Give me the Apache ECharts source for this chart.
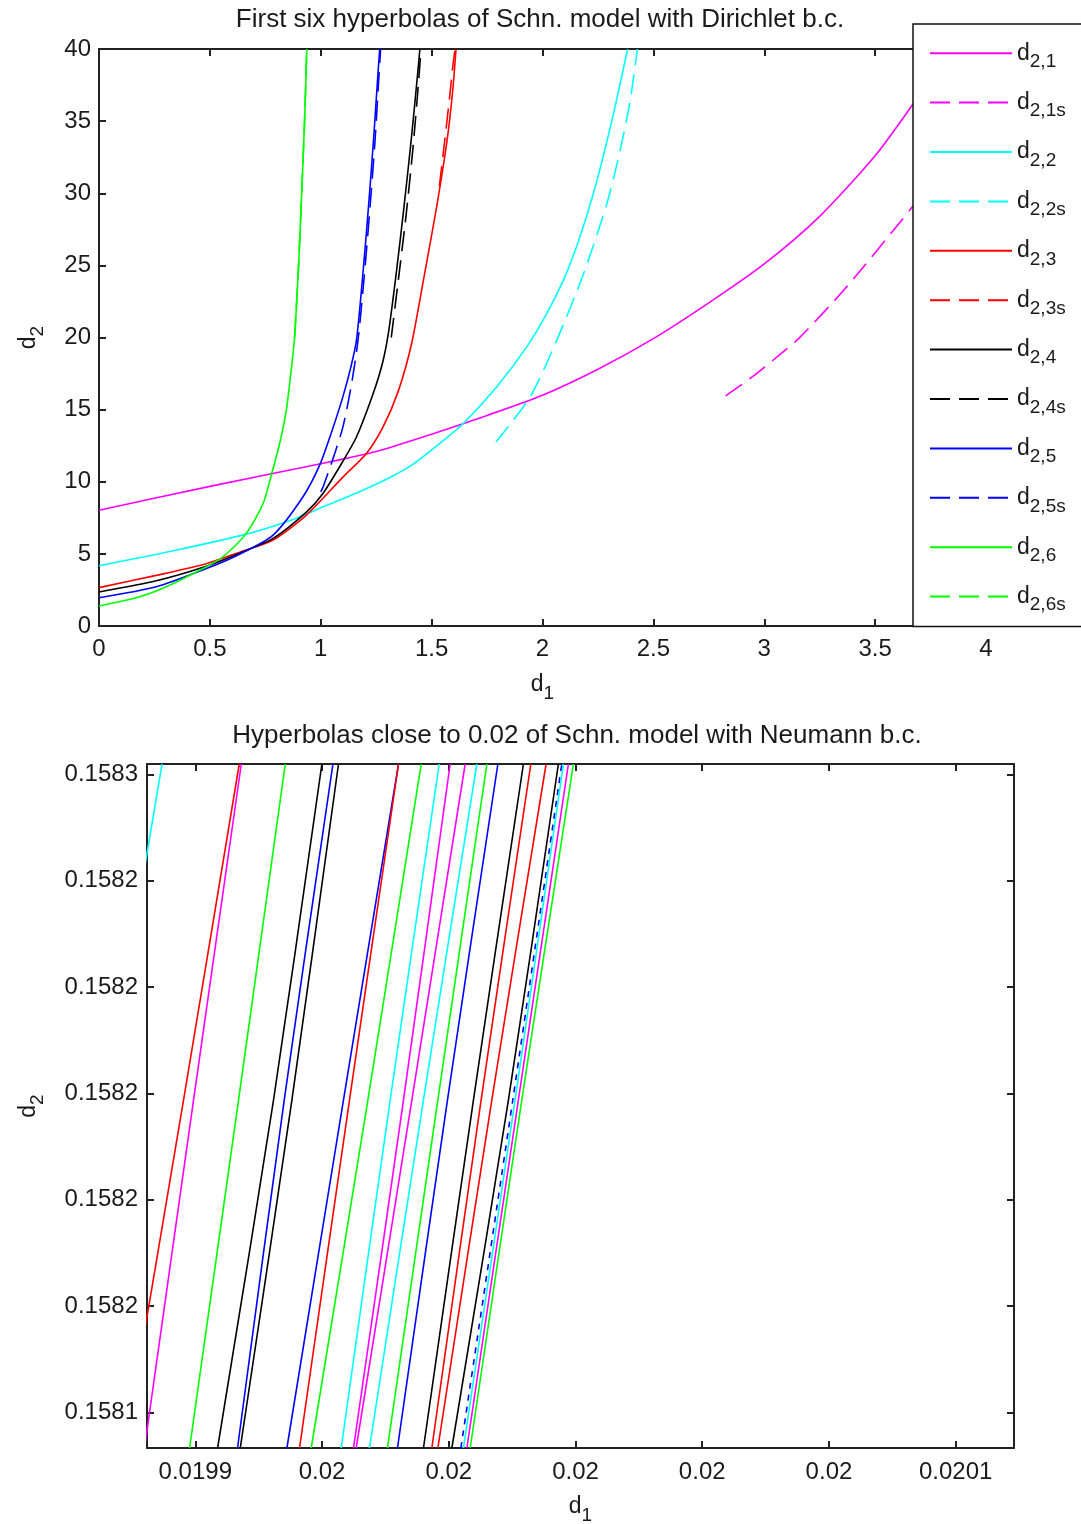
<!DOCTYPE html>
<html><head><meta charset="utf-8">
<script src="https://cdn.jsdelivr.net/npm/echarts/dist/echarts.min.js"></script>
<style>html,body{margin:0;padding:0;background:#fff}#c{width:1081px;height:1524px}</style>
</head><body><div id="c"></div>
<script>
// ---------------- Top chart (Dirichlet) : d1 / d2 pairs ----------------
const d21_d1 = [0, 0.5, 1.0, 1.25, 1.5, 1.75, 2.0, 2.25, 2.5, 2.75, 3.0, 3.25, 3.5, 3.667, 3.75];
const d21_d2 = [8.03, 9.68, 11.25, 12.1, 13.3, 14.6, 16.0, 17.8, 19.92, 22.4, 25.1, 28.4, 32.6, 36.1, 38.0];
const d21s_d1 = [2.826, 2.955, 3.077, 3.156, 3.358, 3.667, 3.75];
const d21s_d2 = [15.95, 17.38, 18.9, 19.94, 23.27, 29.04, 30.8];
const d22_d1 = [0, 0.33, 0.664, 0.875, 1.011, 1.161, 1.312, 1.417, 1.552, 1.643, 1.793, 1.929, 2.019, 2.094, 2.142, 2.178, 2.224, 2.258, 2.32, 2.384];
const d22_d2 = [4.18, 5.2, 6.37, 7.39, 8.26, 9.22, 10.30, 11.22, 12.85, 14.04, 16.57, 19.35, 21.65, 23.96, 25.8, 27.4, 29.7, 31.6, 35.5, 40];
const d22s_d1 = [1.790, 1.944, 2.064, 2.185, 2.29, 2.35, 2.395, 2.428];
const d22s_d2 = [12.75, 15.88, 19.8, 24.42, 29.27, 32.96, 36.4, 40];
const d23_d1 = [0, 0.258, 0.484, 0.634, 0.785, 0.935, 1.101, 1.206, 1.281, 1.35, 1.41, 1.468, 1.522, 1.57, 1.595, 1.61];
const d23_d2 = [2.66, 3.51, 4.32, 5.12, 5.96, 7.69, 10.34, 11.96, 13.8, 16.3, 19.6, 24.4, 29.0, 33.7, 37.1, 40];
const d23s_d1 = [1.535, 1.558, 1.58, 1.597, 1.606];
const d23s_d2 = [30.5, 33.5, 36.5, 39, 40];
const d24_d1 = [0, 0.258, 0.484, 0.634, 0.785, 0.935, 1.01, 1.101, 1.161, 1.236, 1.278, 1.305, 1.34, 1.375, 1.408, 1.437, 1.447];
const d24_d2 = [2.36, 3.14, 4.15, 5.05, 6.07, 7.9, 9.19, 11.45, 13.1, 16.1, 18.2, 20.3, 24.4, 29.0, 33.7, 38.3, 40];
const d24s_d1 = [1.318, 1.35, 1.385, 1.415, 1.44, 1.452];
const d24s_d2 = [20.0, 24.0, 28.5, 33.0, 37.5, 40];
const d25_d1 = [0, 0.258, 0.484, 0.634, 0.785, 0.92, 0.995, 1.05, 1.10, 1.135, 1.161, 1.19, 1.215, 1.238, 1.258, 1.266];
const d25_d2 = [1.96, 2.72, 3.98, 4.98, 6.30, 8.96, 11.15, 13.5, 15.9, 17.9, 19.8, 24.4, 29.0, 33.7, 38.3, 40];
const d25s_d1 = [1.0, 1.011, 1.063, 1.10, 1.138, 1.168, 1.197, 1.222, 1.245, 1.263, 1.27];
const d25s_d2 = [9.3, 9.65, 11.96, 13.8, 16.7, 19.8, 24.4, 29.0, 33.7, 38.3, 40];
const d26_d1 = [0, 0.183, 0.303, 0.484, 0.559, 0.664, 0.740, 0.777, 0.818, 0.845, 0.865, 0.882, 0.90, 0.914, 0.927, 0.937];
const d26_d2 = [1.39, 2.03, 2.72, 4.11, 4.80, 6.42, 8.49, 10.46, 12.88, 15.0, 17.5, 20.0, 25.0, 30.0, 35.0, 40];
const d26s_d1 = [0.882, 0.90, 0.914, 0.927, 0.937];
const d26s_d2 = [20.0, 25.0, 30.0, 35.0, 40];

const topNames = ['d2,1', 'd2,1s', 'd2,2', 'd2,2s', 'd2,3', 'd2,3s', 'd2,4', 'd2,4s', 'd2,5', 'd2,5s', 'd2,6', 'd2,6s'];
const topColors = ['#ff00ff', '#ff00ff', '#00ffff', '#00ffff', '#ff0000', '#ff0000', '#000000', '#000000', '#0000ff', '#0000ff', '#00ff00', '#00ff00'];

const topXTicks = [0, 0.5, 1, 1.5, 2, 2.5, 3, 3.5, 4];
const topXLabels = ['0', '0.5', '1', '1.5', '2', '2.5', '3', '3.5', '4'];
const topYTicks = [0, 5, 10, 15, 20, 25, 30, 35, 40];
const topYLabels = ['0', '5', '10', '15', '20', '25', '30', '35', '40'];

// ---------------- Bottom chart (Neumann) ----------------
// d2 levels at which each line's d1 was read: bottom edge, middle, top edge
const nLevels = [0.15813331, 0.15819878, 0.15826194];
const n01 = [0.01991666, 0.01992585, 0.01993475];
const n02 = [0.01992888, 0.01993815, 0.01994694];
const n03 = [0.01993199, 0.01993973, 0.01994726];
const n04 = [0.0199391, 0.01994683, 0.0199542];
const n05 = [0.01994352, 0.01995235, 0.01995998];
const n06 = [0.01994667, 0.01995404, 0.01996172];
const n07 = [0.0199471, 0.01995525, 0.0199626];
const n08 = [0.01995446, 0.01996339, 0.01997207];
const n09 = [0.01995645, 0.01996434, 0.01997207];
const n10 = [0.0199583, 0.01996724, 0.01997565];
const n11 = [0.01996303, 0.01997076, 0.01997849];
const n12 = [0.01996497, 0.01997286, 0.01998022];
const n13 = [0.01996539, 0.01997418, 0.01998259];
const n14 = [0.01996749, 0.01997601, 0.01998443];
const n15 = [0.01997033, 0.01997828, 0.01998601];
const n16 = [0.01997191, 0.0199798, 0.01998775];
const n17 = [0.01997601, 0.0199839, 0.01999178];
const n18 = [0.01997733, 0.01998511, 0.01999295];
const n19 = [0.01997828, 0.0199868, 0.01999536];
const n20 = [0.01998049, 0.01998942, 0.0199973];
const n21 = [0.01998191, 0.01999011, 0.01999784];
const n22 = [0.01998232, 0.01999047, 0.01999809];
const n23 = [0.01998286, 0.01999099, 0.01999888];
const n24 = [0.01998338, 0.01999153, 0.01999967];
const nColors = ['#00ffff', '#ff0000', '#ff00ff', '#00ff00', '#000000', '#0000ff', '#000000', '#0000ff', '#ff0000', '#00ff00', '#00ffff', '#ff00ff',
                 '#ff00ff', '#00ffff', '#00ff00', '#0000ff', '#000000', '#ff0000', '#ff0000', '#000000', '#0000ff', '#00ffff', '#ff00ff', '#00ff00'];
const nDashed = [21];

const botXTicks = [0.01994, 0.01996, 0.01998, 0.02, 0.02002, 0.02004, 0.02006];
const botXLabels = ['0.0199', '0.02', '0.02', '0.02', '0.02', '0.02', '0.0201'];
const botYTicks = [0.15814, 0.15816, 0.15818, 0.1582, 0.15822, 0.15824, 0.15826];
const botYLabels = ['0.1581', '0.1582', '0.1582', '0.1582', '0.1582', '0.1582', '0.1583'];

// ---------------- build ----------------
const FONT = '"Liberation Sans", Arial, Helvetica, sans-serif';
const TXT = '#1a1a1a';
const FS = 24;
const zip = (a, b) => a.map((v, i) => [v, b[i]]);
const lab = (ticks, labels) => v => {
  const i = ticks.findIndex(t => Math.abs(t - v) <= Math.abs(t) * 1e-7 + 1e-12);
  return i < 0 ? '' : labels[i];
};
const nameRich = {
  d: { fontSize: 23, fontFamily: FONT, color: TXT, lineHeight: 36 },
  s: { fontSize: 19, fontFamily: FONT, color: TXT, lineHeight: 20, verticalAlign: 'bottom' }
};

function axis(grid, pos, min, max, ticks, labels, show, margin, name, nameGap) {
  const a = {
    type: 'value', gridIndex: grid, position: pos, min: min, max: max,
    axisLine: { show: true, onZero: false, lineStyle: { color: '#222', width: 2 } },
    axisTick: { show: true, inside: true, length: 7, customValues: ticks, lineStyle: { color: '#222', width: 2 } },
    axisLabel: { show: show, customValues: ticks, formatter: lab(ticks, labels), margin: margin,
                 fontSize: FS, fontFamily: FONT, color: TXT, hideOverlap: false },
    splitLine: { show: false }
  };
  if (name) {
    a.name = '{d|d}{s|' + name + '}';
    a.nameLocation = 'middle';
    a.nameGap = nameGap;
    a.nameTextStyle = { rich: nameRich };
    if (pos === 'left') a.nameRotate = 90;
  }
  return a;
}

const topData = [
  [d21_d1, d21_d2], [d21s_d1, d21s_d2], [d22_d1, d22_d2], [d22s_d1, d22s_d2],
  [d23_d1, d23_d2], [d23s_d1, d23s_d2], [d24_d1, d24_d2], [d24s_d1, d24s_d2],
  [d25_d1, d25_d2], [d25s_d1, d25s_d2], [d26_d1, d26_d2], [d26s_d1, d26s_d2]
];
const series = [];
topData.forEach((d, i) => {
  series.push({
    type: 'line', name: topNames[i], xAxisIndex: 0, yAxisIndex: 0,
    data: zip(d[0], d[1]), symbol: 'none', smooth: 0.25,
    lineStyle: { color: topColors[i], width: 1.6, type: topNames[i].endsWith('s') ? [20, 9] : 'solid' },
    itemStyle: { color: topColors[i] }, silent: true, clip: true
  });
});
const nLines = [n01, n02, n03, n04, n05, n06, n07, n08, n09, n10, n11, n12, n13, n14, n15, n16, n17, n18, n19, n20, n21, n22, n23, n24];
nLines.forEach((d, i) => {
  series.push({
    type: 'line', xAxisIndex: 2, yAxisIndex: 2,
    data: zip(d, nLevels), symbol: 'none', smooth: 0.3,
    lineStyle: { color: nColors[i], width: 1.6, type: nDashed.includes(i + 1) ? [6, 6] : 'solid' },
    silent: true, clip: true
  });
});

const TOPX = [0, 4], TOPY = [0, 40];
const BOTX = [0.01993238, 0.0200692], BOTY = [0.15813331, 0.15826194];

const option = {
  animation: false,
  backgroundColor: '#fff',
  grid: [
    { left: 99, top: 49, width: 887, height: 577, containLabel: false, outerBoundsMode: 'none' },
    { left: 147, top: 764, width: 867, height: 684, containLabel: false, outerBoundsMode: 'none' }
  ],
  xAxis: [
    axis(0, 'bottom', TOPX[0], TOPX[1], topXTicks, topXLabels, true, 11, '1', 41),
    axis(0, 'top', TOPX[0], TOPX[1], topXTicks, topXLabels, false, 8),
    axis(1, 'bottom', BOTX[0], BOTX[1], botXTicks, botXLabels, true, 12, '1', 41),
    axis(1, 'top', BOTX[0], BOTX[1], botXTicks, botXLabels, false, 8)
  ],
  yAxis: [
    axis(0, 'left', TOPY[0], TOPY[1], topYTicks, topYLabels, true, 8, '2', 52),
    axis(0, 'right', TOPY[0], TOPY[1], topYTicks, topYLabels, false, 8),
    axis(1, 'left', BOTY[0], BOTY[1], botYTicks, botYLabels, true, 9, '2', 100),
    axis(1, 'right', BOTY[0], BOTY[1], botYTicks, botYLabels, false, 8)
  ],
  legend: {
    data: topNames, orient: 'vertical', left: 913, top: 24,
    padding: [17.7, 40, 12, 16],
    itemWidth: 82, itemHeight: 14, itemGap: 19.9,
    backgroundColor: '#fff', borderColor: '#111', borderWidth: 1.5, borderRadius: 0,
    selectedMode: false,
    itemStyle: { opacity: 0 },
    formatter: n => '{d|d}{s|' + n.slice(1) + '}',
    textStyle: { fontFamily: FONT, color: TXT, rich: nameRich }
  },
  graphic: [
    { type: 'text', x: 540, y: 20, silent: true,
      style: { text: 'First six hyperbolas of Schn. model with Dirichlet b.c.', fontSize: 26, fontFamily: FONT, fill: TXT, align: 'center', verticalAlign: 'middle' } },
    { type: 'text', x: 577, y: 736, silent: true,
      style: { text: 'Hyperbolas close to 0.02 of Schn. model with Neumann b.c.', fontSize: 26, fontFamily: FONT, fill: TXT, align: 'center', verticalAlign: 'middle' } }
  ],
  series: series
};

const chart = echarts.init(document.getElementById('c'), null, { renderer: 'canvas' });
chart.setOption(option);
</script></body></html>
